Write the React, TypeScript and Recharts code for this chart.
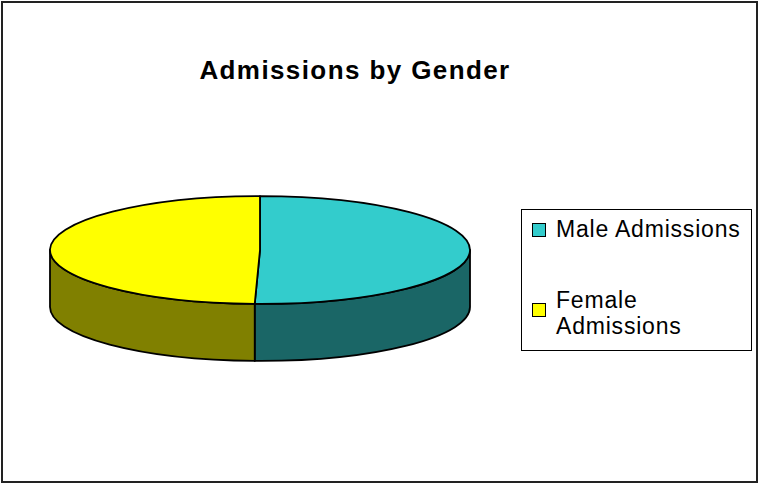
import React from 'react';
import { PieChart, Pie, Legend } from 'recharts';

const title = 'Admissions by Gender';
const categories = ['Male Admissions', 'Female Admissions'];
const legendLines = [['Male Admissions'], ['Female', 'Admissions']];
const admissions = [50.4, 49.6];
const topColors = ['#33CCCC', '#FFFF00'];
const sideColors = ['#1A6666', '#808000'];

const data = categories.map((name, i) => ({ name, value: admissions[i] }));

const W = 759;
const H = 484;
const TILT = 0.257;
const DEPTH = 57;
const RAD = Math.PI / 180;

const renderSlice = (props: any) => {
  const { cx, cy, outerRadius, startAngle, endAngle, index } = props;
  const rx = outerRadius;
  const ry = outerRadius * TILT;
  const pt = (a: number, dy = 0) =>
    `${cx + rx * Math.cos(a * RAD)},${cy - ry * Math.sin(a * RAD) + dy}`;
  const hi = Math.max(startAngle, endAngle);
  const lo = Math.min(startAngle, endAngle);
  const sides: [number, number][] = [];
  for (const k of [-720, -360, 0, 360]) {
    const a = Math.max(lo, -180 + k);
    const b = Math.min(hi, k);
    if (b - a > 0.01) sides.push([a, b]);
  }
  const large = hi - lo > 180 ? 1 : 0;
  const top = `M${cx},${cy} L${pt(hi)} A${rx},${ry} 0 ${large} 1 ${pt(lo)} Z`;
  return (
    <g key={`slice-${index}`}>
      {sides.map(([a, b], j) => (
        <path
          key={j}
          d={`M${pt(b)} A${rx},${ry} 0 0 1 ${pt(a)} L${pt(a, DEPTH)} A${rx},${ry} 0 0 0 ${pt(b, DEPTH)} Z`}
          fill={sideColors[index]}
          stroke="#000"
          strokeWidth={1.8}
          strokeLinejoin="round"
        />
      ))}
      <path d={top} fill={topColors[index]} stroke="#000" strokeWidth={1.8} strokeLinejoin="round" />
    </g>
  );
};

const fontFamily = '"Liberation Sans", Arial, sans-serif';

const LegendBox = () => {
  const squareTops = [13, 93];
  const textTops = [5.8, 77.4];
  return (
    <div
      style={{
        position: 'relative',
        width: 231,
        height: 142,
        border: '1px solid #000',
        boxSizing: 'border-box',
        background: '#fff',
        fontFamily,
        fontSize: 23,
        letterSpacing: 0.8,
        color: '#000',
      }}
    >
      {categories.map((c, i) => (
        <React.Fragment key={c}>
          <div
            style={{
              position: 'absolute',
              left: 10,
              top: squareTops[i],
              width: 14,
              height: 14,
              background: topColors[i],
              border: '1.5px solid #000',
              boxSizing: 'border-box',
            }}
          />
          {legendLines[i].map((line, j) => (
            <div
              key={j}
              style={{
                position: 'absolute',
                left: 34,
                top: textTops[i] + j * 26,
                lineHeight: '26px',
                whiteSpace: 'nowrap',
              }}
            >
              {line}
            </div>
          ))}
        </React.Fragment>
      ))}
    </div>
  );
};

export default function App() {
  return (
    <div style={{ position: 'absolute', left: 0, top: 0, width: W, height: H, background: '#fff' }}>
      <PieChart width={W} height={H} margin={{ top: 0, right: 0, bottom: 0, left: 0 }}>
        <rect x={2} y={2} width={755} height={480} fill="#fff" stroke="#222" strokeWidth={2} />
        <text
          x={355}
          y={79}
          textAnchor="middle"
          fontFamily={fontFamily}
          fontWeight="bold"
          fontSize={26}
          letterSpacing={1.4}
          fill="#000"
        >
          {title}
        </text>
        <Pie
          data={data}
          dataKey="value"
          nameKey="name"
          cx={260}
          cy={250}
          outerRadius={210}
          startAngle={90}
          endAngle={-270}
          fill="transparent"
          stroke="none"
          label={renderSlice}
          labelLine={false}
          isAnimationActive={false}
        />
        <Legend
          content={() => <LegendBox />}
          wrapperStyle={{ position: 'absolute', left: 521, top: 209, width: 231, height: 142 }}
        />
      </PieChart>
    </div>
  );
}
